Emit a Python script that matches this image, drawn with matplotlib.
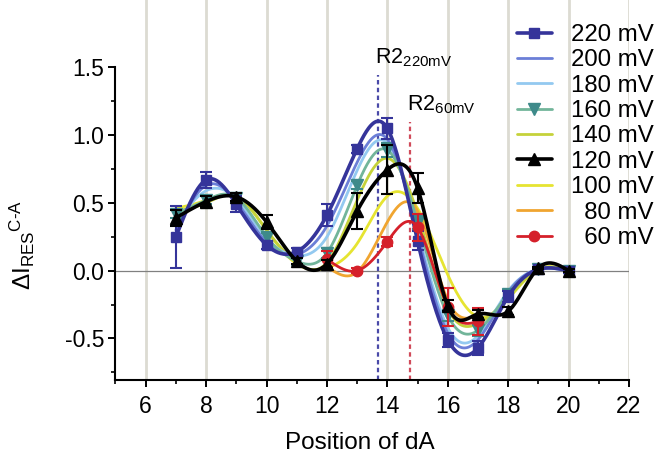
import numpy as np
import matplotlib
matplotlib.use("Agg")
import matplotlib.pyplot as plt

plt.rcParams['font.family'] = ['Liberation Sans', 'DejaVu Sans']
plt.rcParams['mathtext.fontset'] = 'custom'
plt.rcParams['mathtext.rm'] = 'Liberation Sans'
plt.rcParams['mathtext.it'] = 'Liberation Sans:italic'
plt.rcParams['mathtext.bf'] = 'Liberation Sans:bold'

# ---------------- data ----------------
positions = [7, 8, 9, 10, 11, 12, 13, 14, 15, 16, 17, 18, 19, 20]
positions_low = [12, 13, 14, 15, 16, 17]

v220 = [0.25, 0.67, 0.49, 0.19, 0.14, 0.41, 0.90, 1.05, 0.22, -0.51, -0.57, -0.19, 0.01, 0.00]
e220 = [0.23, 0.06, 0.06, 0.03, 0.03, 0.08, 0.03, 0.08, 0.07, 0.05, 0.05, 0.04, 0.02, 0.02]
v200 = [0.30, 0.63, 0.51, 0.21, 0.12, 0.33, 0.80, 0.97, 0.27, -0.46, -0.51, -0.16, 0.01, 0.00]
v180 = [0.35, 0.59, 0.53, 0.24, 0.11, 0.25, 0.74, 0.94, 0.30, -0.42, -0.48, -0.15, 0.01, 0.00]
v160 = [0.42, 0.52, 0.54, 0.25, 0.07, 0.13, 0.63, 0.89, 0.36, -0.33, -0.44, -0.17, 0.01, 0.00]
e160 = [0.03, 0.03, 0.03, 0.03, 0.03, 0.04, 0.03, 0.05, 0.05, 0.04, 0.04, 0.03, 0.02, 0.02]
v140 = [0.44, 0.50, 0.55, 0.30, 0.06, 0.06, 0.52, 0.83, 0.42, -0.28, -0.39, -0.20, 0.01, 0.00]
v120 = [0.39, 0.51, 0.545, 0.36, 0.07, 0.05, 0.44, 0.745, 0.61, -0.26, -0.32, -0.30, 0.02, 0.00]
e120 = [0.06, 0.04, 0.03, 0.05, 0.02, 0.03, 0.13, 0.18, 0.11, 0.04, 0.03, 0.03, 0.01, 0.01]
v100 = [0.46, 0.52, 0.55, 0.30, 0.05, 0.02, 0.20, 0.55, 0.46, -0.03, -0.34, -0.21, 0.01, 0.00]
v80 = [0.03, -0.01, 0.36, 0.44, -0.22, -0.33]
v60 = [0.085, 0.00, 0.215, 0.32, -0.265, -0.375]
e60 = [0.06, 0.02, 0.03, 0.10, 0.14, 0.10]

labels = ['220 mV', '200 mV', '180 mV', '160 mV', '140 mV', '120 mV', '100 mV', '  80 mV', '  60 mV']
colors = ['#35349a', '#6b7fd7', '#93c9f0', '#72b59a', '#c5d23a', '#000000', '#e6e431', '#f0a530', '#d5202a']
marker_colors = {'220 mV': '#35349a', '160 mV': '#3e8a8a', '120 mV': '#000000', '  60 mV': '#d5202a'}

r2_pos = [13.7, 14.75]
r2_top = [1.445, 1.10]
r2_text = [r'R2$_{\mathrm{220mV}}$', r'R2$_{\mathrm{60mV}}$']
r2_text_xy = [(13.59, 1.53), (14.64, 1.186)]
r2_colors = ['#4a4aa8', '#d04a5a']


def natural_spline(x, y, n=500):
    x = np.asarray(x, float)
    y = np.asarray(y, float)
    m = len(x)
    h = np.diff(x)
    A = np.zeros((m, m))
    b = np.zeros(m)
    A[0, 0] = 1
    A[-1, -1] = 1
    for i in range(1, m - 1):
        A[i, i - 1] = h[i - 1]
        A[i, i] = 2 * (h[i - 1] + h[i])
        A[i, i + 1] = h[i]
        b[i] = 6 * ((y[i + 1] - y[i]) / h[i] - (y[i] - y[i - 1]) / h[i - 1])
    M = np.linalg.solve(A, b)
    xs = np.linspace(x[0], x[-1], n)
    idx = np.clip(np.searchsorted(x, xs) - 1, 0, m - 2)
    x0 = x[idx]
    x1 = x[idx + 1]
    hh = x1 - x0
    ys = (M[idx] * (x1 - xs) ** 3 / (6 * hh) + M[idx + 1] * (xs - x0) ** 3 / (6 * hh)
          + (y[idx] / hh - M[idx] * hh / 6) * (x1 - xs)
          + (y[idx + 1] / hh - M[idx + 1] * hh / 6) * (xs - x0))
    return xs, ys


fig = plt.figure(figsize=(6.6, 4.61), dpi=100)
ax = fig.add_axes([0.175, 0.1757, 0.778, 0.8243])
ax.set_xlim(5, 22)
ax.set_ylim(-0.807, 1.998)

# grid (vertical only)
ax.set_xticks(np.arange(6, 23, 2))
ax.set_xticks(np.arange(5, 22, 2), minor=True)
ax.set_yticks([-0.5, 0.0, 0.5, 1.0, 1.5])
ax.set_yticks([-0.75, -0.25, 0.25, 0.75, 1.25], minor=True)
ax.xaxis.grid(True, which='major', color='#dcdbd2', lw=2.0, zorder=0)
ax.set_axisbelow(True)
ax.axhline(0, color='#808080', lw=0.9, zorder=1)

series = [
    ('220 mV', positions, v220, e220, 's', 6.5),
    ('200 mV', positions, v200, None, None, 0),
    ('180 mV', positions, v180, None, None, 0),
    ('160 mV', positions, v160, e160, 'v', 8),
    ('140 mV', positions, v140, None, None, 0),
    ('120 mV', positions, v120, e120, '^', 8),
    ('100 mV', positions, v100, None, None, 0),
    ('  80 mV', positions_low, v80, None, None, 0),
    ('  60 mV', positions_low, v60, e60, 'o', 7.5),
]
zorders = {'220 mV': 9, '200 mV': 5, '180 mV': 4, '160 mV': 6, '140 mV': 3,
           '120 mV': 11, '100 mV': 2, '  80 mV': 3.5, '  60 mV': 10}

handles = []
for (lab, xs, ys, es, mk, ms), col in zip(series, colors):
    z = zorders[lab]
    lw = 2.6 if lab in ('220 mV', '120 mV') else 2.0
    sx, sy = natural_spline(xs, ys)
    line, = ax.plot(sx, sy, color=col, lw=lw, zorder=z, solid_capstyle='round')
    if mk is not None:
        mc = marker_colors[lab]
        ax.errorbar(xs, ys, yerr=es, fmt='none', ecolor=mc, elinewidth=1.5,
                    capsize=4, capthick=1.5, zorder=z + 0.1)
        pts, = ax.plot(xs, ys, ls='none', marker=mk, ms=ms, color=mc, mec=mc, zorder=z + 0.2)
        handles.append((line, pts))
    else:
        handles.append(line)

# R2 markers
for xp, top, c in zip(r2_pos, r2_top, r2_colors):
    ax.vlines(xp, -0.807, top, colors=c, linestyles=(0, (2.0, 1.5)), lw=1.6, zorder=1.5)
for txt, (tx, ty) in zip(r2_text, r2_text_xy):
    ax.text(tx, ty, txt, fontsize=15.5, ha='left', va='baseline', zorder=20)

# spines
for s in ('top', 'right'):
    ax.spines[s].set_visible(False)
ax.spines['left'].set_bounds(-0.807, 1.5)
ax.spines['left'].set_linewidth(1.5)
ax.spines['bottom'].set_linewidth(1.5)
ax.tick_params(axis='both', which='major', direction='out', length=5, width=1.4,
               labelsize=16.5, pad=3)
ax.tick_params(axis='both', which='minor', direction='out', length=3, width=1.2)
ax.tick_params(axis='x', which='major', pad=6)
ax.set_yticklabels(['-0.5', '0.0', '0.5', '1.0', '1.5'])

ax.set_xlabel('Position of dA', fontsize=17.5)
ax.xaxis.set_label_coords(0.476, -0.137)
ax.set_ylabel(r'$\Delta\mathrm{I}_{\mathrm{RES}}{}^{\mathrm{C\text{-}A}}$', fontsize=17.5)
ax.yaxis.set_label_coords(-0.153, 0.355)

leg = fig.legend(handles, labels, loc='upper left', bbox_to_anchor=(516.7 / 660, 1 - 24 / 461),
                 frameon=False, fontsize=17.3, handlelength=1.48, handletextpad=0.76,
                 labelspacing=0.14, borderpad=0, borderaxespad=0, numpoints=1)

fig.savefig('out.png', dpi=100)
